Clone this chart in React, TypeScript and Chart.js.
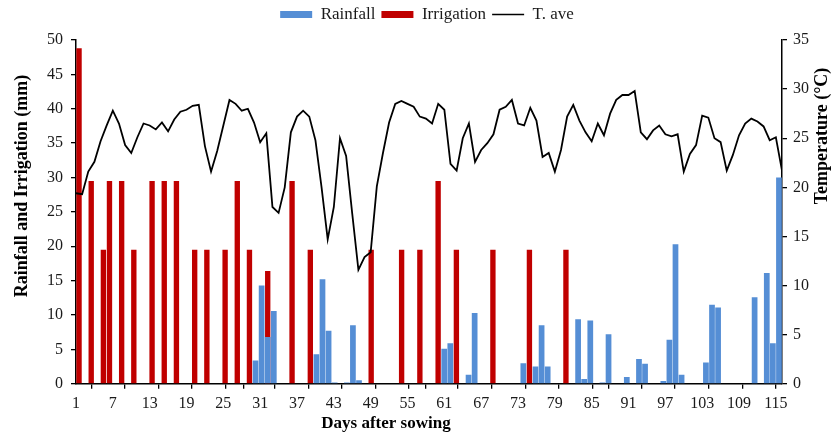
import React, { useEffect, useRef } from 'react';
import { Chart, registerables } from 'chart.js';

Chart.register(...registerables);

// ---- Data ----
// Days after sowing (categories)
const days: number[] = Array.from({ length: 116 }, (_, i) => i + 1);
// x-axis label days
const labelDays: number[] = [1, 7, 13, 19, 25, 31, 37, 43, 49, 55, 61, 67, 73, 79, 85, 91, 97, 103, 109, 115];

// Rainfall (mm) on rainy days
const rainDays: number[] = [30, 31, 32, 33, 40, 41, 42, 43, 45, 46, 47, 61, 62, 65, 66, 74, 76, 77, 78, 83, 84, 85, 87, 88, 91, 93, 94, 97, 98, 99, 100, 104, 105, 106, 112, 114, 115, 116];
const rainMm: number[] = [3.4, 14.3, 6.8, 10.6, 4.3, 15.2, 7.7, 0.2, 0.2, 8.5, 0.5, 5.1, 5.9, 1.3, 10.3, 3.0, 2.5, 8.5, 2.5, 9.4, 0.7, 9.2, 0.2, 7.2, 1.0, 3.6, 2.9, 0.4, 6.4, 20.3, 1.3, 3.1, 11.5, 11.1, 12.6, 16.1, 5.9, 30.0];

// Irrigation (mm) on irrigation days
const irrDays: number[] = [1, 3, 5, 6, 8, 10, 13, 15, 17, 20, 22, 25, 27, 29, 32, 36, 39, 49, 54, 57, 60, 63, 69, 75, 81];
const irrMm: number[] = [48.8, 29.5, 19.5, 29.5, 29.5, 19.5, 29.5, 29.5, 29.5, 19.5, 19.5, 19.5, 29.5, 19.5, 16.4, 29.5, 19.5, 19.5, 19.5, 19.5, 29.5, 19.5, 19.5, 19.5, 19.5];

// Average temperature (°C), days 1..116
const tAve: number[] = [
  19.4, 19.3, 21.6, 22.6, 24.7, 26.3, 27.8, 26.5, 24.3, 23.5,
  25.1, 26.5, 26.3, 25.9, 26.6, 25.7, 26.9, 27.7, 27.9, 28.3,
  28.4, 24.2, 21.6, 23.7, 26.3, 28.9, 28.5, 27.8, 28.0, 26.6,
  24.6, 25.5, 18.0, 17.4, 20.0, 25.6, 27.2, 27.8, 27.2, 24.8,
  20.0, 14.7, 18.0, 25.0, 23.2, 17.3, 11.6, 12.9, 13.4, 20.1,
  23.5, 26.6, 28.5, 28.8, 28.5, 28.2, 27.2, 27.0, 26.5, 28.5,
  27.9, 22.4, 21.7, 25.0, 26.5, 22.6, 23.8, 24.5, 25.4, 27.9,
  28.2, 28.9, 26.5, 26.3, 28.1, 26.8, 23.1, 23.5, 21.6, 23.8,
  27.2, 28.4, 26.8, 25.6, 24.7, 26.5, 25.3, 27.5, 28.9, 29.4,
  29.4, 29.8, 25.6, 24.9, 25.8, 26.3, 25.4, 25.2, 25.4, 21.6,
  23.4, 24.3, 27.3, 27.1, 25.0, 24.6, 21.7, 23.3, 25.3, 26.5,
  27.0, 26.7, 26.2, 24.8, 25.1, 21.7,
];

const Y_TITLE = 'Rainfall and Irrigation (mm)';
const Y1_TITLE = 'Temperature (°C)';
const X_TITLE = 'Days after sowing';

const SERIF = '"Liberation Serif", "Times New Roman", serif';
const BLUE = '#558ED5';
const RED = '#C00000';
const TEXT = '#1a1a1a';

function fill(dayList: number[], values: number[]): (number | null)[] {
  return days.map((d) => {
    const i = dayList.indexOf(d);
    return i >= 0 ? values[i] : null;
  });
}

// tick-mark positions every 5 category boundaries, expressed on the linear day axis
const nCat = days.length;
const markValues: number[] = [];
for (let k = 0; k * 5 <= nCat; k++) markValues.push(1 + (k * 5 * (nCat - 1)) / nCat);

const titlesPlugin = {
  id: 'axisTitles',
  afterDraw(chart: any) {
    const { ctx, chartArea } = chart;
    ctx.save();
    ctx.fillStyle = '#000';
    ctx.textAlign = 'center';
    ctx.textBaseline = 'middle';
    ctx.font = `bold 17px ${SERIF}`;
    ctx.fillText(X_TITLE, chartArea.left + 310, 424);
    ctx.font = `bold 18px ${SERIF}`;
    ctx.save();
    ctx.translate(22, chartArea.top + 146);
    ctx.rotate(-Math.PI / 2);
    ctx.fillText(Y_TITLE, 0, 0);
    ctx.restore();
    ctx.save();
    ctx.translate(822, chartArea.top + 96);
    ctx.rotate(-Math.PI / 2);
    ctx.fillText(Y1_TITLE, 0, 0);
    ctx.restore();
    ctx.restore();
  },
};

const legendSpacer = {
  id: 'legendSpacer',
  beforeInit(chart: any) {
    const legend = chart.legend;
    if (!legend) return;
    const orig = legend.fit;
    legend.fit = function () {
      orig.call(this);
      this.height += 7;
    };
  },
};

export default function App() {
  const canvasRef = useRef<HTMLCanvasElement | null>(null);

  useEffect(() => {
    if (!canvasRef.current) return;
    const chart = new Chart(canvasRef.current, {
      type: 'bar',
      data: {
        labels: days.map(String),
        datasets: [
          {
            type: 'bar',
            label: 'Rainfall',
            data: fill(rainDays, rainMm),
            backgroundColor: BLUE,
            borderWidth: 0,
            xAxisID: 'x',
            yAxisID: 'y',
            grouped: false,
            categoryPercentage: 1,
            barPercentage: 0.94,
            order: 1,
            pointStyle: 'rect',
          } as any,
          {
            type: 'bar',
            label: 'Irrigation',
            data: fill(irrDays, irrMm),
            backgroundColor: RED,
            borderWidth: 0,
            xAxisID: 'x',
            yAxisID: 'y',
            grouped: false,
            categoryPercentage: 1,
            barPercentage: 0.88,
            order: 2,
            pointStyle: 'rect',
          } as any,
          {
            type: 'line',
            label: 'T. ave',
            data: days.map((d, i) => ({ x: d, y: tAve[i] })),
            borderColor: '#000',
            backgroundColor: '#000',
            borderWidth: 1.8,
            pointRadius: 0,
            pointStyle: 'line',
            pointBorderColor: '#000',
            pointBorderWidth: 1.5,
            tension: 0,
            xAxisID: 'x2',
            yAxisID: 'y1',
            order: 0,
          } as any,
        ],
      },
      options: {
        responsive: false,
        animation: false,
        events: [],
        layout: { padding: { left: 39, right: 23, top: 0, bottom: 14 } },
        plugins: {
          tooltip: { enabled: false },
          title: { display: false },
          legend: {
            display: true,
            position: 'top',
            labels: {
              usePointStyle: true,
              pointStyleWidth: 32,
              boxHeight: 7,
              padding: 6,
              color: TEXT,
              font: { family: SERIF, size: 17 },
              sort: (a: any, b: any) => a.datasetIndex - b.datasetIndex,
            },
          },
        },
        scales: {
          x: {
            type: 'category',
            display: false,
            offset: true,
          },
          x2: {
            type: 'linear',
            position: 'bottom',
            min: 1,
            max: nCat,
            offset: false,
            afterBuildTicks: (axis: any) => {
              const vals = Array.from(new Set([...labelDays, ...markValues])).sort((a, b) => a - b);
              axis.ticks = vals.map((v) => ({ value: v }));
            },
            ticks: {
              autoSkip: false,
              maxRotation: 0,
              minRotation: 0,
              padding: 5,
              color: TEXT,
              font: { family: SERIF, size: 16 },
              callback: (v: any) => (labelDays.includes(v) ? String(v) : ''),
            },
            grid: {
              drawOnChartArea: false,
              drawTicks: true,
              tickLength: 5,
              lineWidth: 1.3,
              color: (ctx: any) =>
                ctx.tick && markValues.some((m) => Math.abs(m - ctx.tick.value) < 1e-6) ? '#000' : 'rgba(0,0,0,0)',
            },
            border: { display: true, color: '#000', width: 1.5 },
          },
          y: {
            type: 'linear',
            position: 'left',
            min: 0,
            max: 50,
            ticks: { stepSize: 5, padding: 8, color: TEXT, font: { family: SERIF, size: 16 } },
            grid: { drawOnChartArea: false, drawTicks: true, tickLength: 5, color: '#000', lineWidth: 1.3 },
            border: { display: true, color: '#000', width: 1.5 },
          },
          y1: {
            type: 'linear',
            position: 'right',
            min: 0,
            max: 35,
            ticks: { stepSize: 5, padding: 6, color: TEXT, font: { family: SERIF, size: 16 } },
            grid: { drawOnChartArea: false, drawTicks: true, tickLength: 5, color: '#000', lineWidth: 1.3 },
            border: { display: true, color: '#000', width: 1.5 },
          },
        },
      } as any,
      plugins: [legendSpacer, titlesPlugin],
    });
    return () => chart.destroy();
  }, []);

  return (
    <div style={{ position: 'fixed', left: 0, top: 0, width: 838, height: 432, background: '#fff' }}>
      <canvas ref={canvasRef} width={838} height={432} style={{ display: 'block' }} />
    </div>
  );
}
